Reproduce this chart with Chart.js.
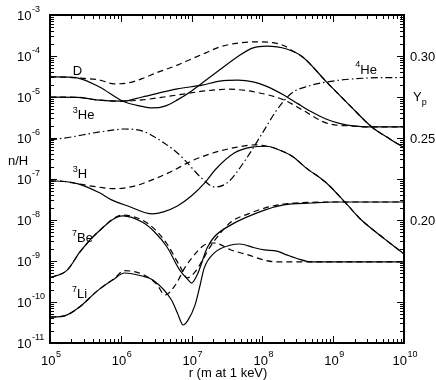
<!DOCTYPE html>
<html><head><meta charset="utf-8">
<script src="https://cdn.jsdelivr.net/npm/chart.js@4/dist/chart.umd.min.js"></script>
<style>html,body{margin:0;padding:0;background:#fff}canvas{display:block}</style>
</head><body>
<canvas id="c" width="436" height="380"></canvas>
<script>
// ---------------- data ----------------
const xDecades = [5, 6, 7, 8, 9, 10];            // tick labels 10^5 ... 10^10
const yDecades = [-11, -10, -9, -8, -7, -6, -5, -4, -3];
const ypTicks = [0.20, 0.25, 0.30];
const xTitle = 'r (m at 1 keV)';
const yTitle = 'n/H';

const D_solid_r = [1e5,1.6e5,2.5e5,5e5,1.07e6,1.9e6,2.8e6,4.2e6,6.3e6,1e7,1.41e7,2.5e7,4.4e7,7.4e7,1.15e8,2.2e8,3.7e8,8.1e8,1.75e9,3.5e9,6.3e9,1e10];
const D_solid_n = [3.1e-5,3.05e-5,2.9e-5,1.75e-5,7.9e-6,6.0e-6,5.4e-6,6.0e-6,8.5e-6,1.41e-5,2.2e-5,4.6e-5,9.5e-5,1.58e-4,1.74e-4,1.48e-4,9.5e-5,2.3e-5,6.0e-6,1.86e-6,9.5e-7,5.8e-7];
const D_dash_r = [1e5,1.6e5,2.5e5,5e5,8e5,1.26e6,2e6,3.2e6,6.3e6,1e7,1.58e7,2.5e7,4e7,8e7,1.4e8,2e8,2.7e8,3.7e8,8.1e8,1.75e9,3.5e9,6.3e9,1e10];
const D_dash_n = [3.1e-5,3.05e-5,2.9e-5,2.6e-5,2.1e-5,2.2e-5,2.8e-5,3.9e-5,6.0e-5,8.5e-5,1.19e-4,1.66e-4,2.0e-4,2.22e-4,2.12e-4,1.8e-4,1.32e-4,9.5e-5,2.3e-5,6.0e-6,1.86e-6,9.5e-7,5.8e-7];

const He3_solid_r = [1e5,2.5e5,4.5e5,1.07e6,2e6,6.3e6,1.41e7,2.5e7,4.5e7,7.4e7,1.15e8,2e8,3.2e8,5e8,7.9e8,1.26e9,2e9,4e9,1e10];
const He3_solid_n = [1.0e-5,9.8e-6,8.5e-6,7.9e-6,1.0e-5,1.58e-5,1.95e-5,2.45e-5,2.57e-5,2.34e-5,1.82e-5,1.12e-5,6.8e-6,4.3e-6,2.9e-6,2.24e-6,1.95e-6,1.86e-6,1.86e-6];
const He3_dash_r = [1e5,2.5e5,4.5e5,1.07e6,2e6,6.3e6,1.58e7,3.2e7,7.4e7,2e8,3.7e8,8.1e8,2e9,4e9,1e10];
const He3_dash_n = [1.0e-5,9.8e-6,8.5e-6,7.9e-6,8.5e-6,1.12e-5,1.41e-5,1.55e-5,1.35e-5,8.5e-6,4.8e-6,2.3e-6,1.95e-6,1.86e-6,1.86e-6];

const He4_r = [1e5,2e5,4e5,8e5,1.12e6,2e6,3e6,6.3e6,8.7e6,1.38e7,2.14e7,3.3e7,5.75e7,1e8,1.6e8,2.6e8,4.5e8,7.9e8,3.2e9,1e10];
const He4_Yp = [0.2488,0.2506,0.2530,0.2549,0.2555,0.2543,0.2506,0.2409,0.2348,0.2256,0.2201,0.2232,0.2366,0.2530,0.2671,0.2774,0.2817,0.2841,0.2866,0.2869];

const H3_solid_r = [1e5,1.6e5,2.5e5,5e5,7.4e5,1.26e6,2.8e6,4e6,6.3e6,1e7,1.58e7,2.14e7,4e7,7.1e7,1.15e8,1.6e8,2.7e8,4e8,8.1e8,1.6e9,2.5e9,4e9,6.3e9,1e10];
const H3_solid_n = [9e-8,8.7e-8,7.6e-8,4.6e-8,3.1e-8,2.2e-8,1.41e-8,1.58e-8,2.2e-8,3.9e-8,8.5e-8,1.66e-7,4.3e-7,6.0e-7,6.3e-7,5.4e-7,3.5e-7,1.95e-7,7.9e-8,2.3e-8,1e-8,5.1e-9,2.75e-9,1.48e-9];
const H3_dash_r = [1e5,1.6e5,2.5e5,5e5,8e5,1.6e6,2.5e6,5e6,1e7,2e7,4e7,7.9e7,1.15e8,1.6e8,2.7e8,4e8,8.1e8,1.6e9,2.5e9,4e9,6.3e9,1e10];
const H3_dash_n = [9e-8,8.7e-8,7.6e-8,6.3e-8,5.8e-8,6.8e-8,8.9e-8,1.48e-7,2.75e-7,4.3e-7,5.8e-7,6.8e-7,6.3e-7,5.4e-7,3.5e-7,1.95e-7,7.9e-8,2.3e-8,1e-8,5.1e-9,2.75e-9,1.48e-9];

const Be7_solid_r = [1e5,1.75e5,2.65e5,4.6e5,1.07e6,2e6,3e6,4.5e6,6.8e6,8.9e6,1e7,1.2e7,1.66e7,2.1e7,3.6e7,1.07e8,2e8,5e8,1e9,1e10];
const Be7_solid_n = [3.9e-10,6.0e-10,1.66e-9,4.8e-9,1.26e-8,8.9e-9,5.1e-9,2.2e-9,6.0e-10,3.5e-10,2.9e-10,4.6e-10,2.1e-9,3.9e-9,7.6e-9,1.74e-8,2.34e-8,2.6e-8,2.75e-8,2.75e-8];
const Be7_dash_r = [1e5,1.75e5,2.65e5,4.6e5,1.07e6,2e6,3e6,4.5e6,6.8e6,8.7e6,1.12e7,1.38e7,1.9e7,3.6e7,6.3e7,1.07e8,2e8,5e8,1e9,1e10];
const Be7_dash_n = [3.9e-10,6.0e-10,1.66e-9,4.8e-9,1.32e-8,1.0e-8,6.0e-9,2.6e-9,7.6e-10,3.9e-10,5.4e-10,9.5e-10,2.45e-9,8.9e-9,1.41e-8,1.95e-8,2.45e-8,2.7e-8,2.75e-8,2.75e-8];

const Li7_solid_r = [1e5,1.6e5,2.5e5,4.8e5,8e5,1.12e6,2e6,2.8e6,5.2e6,6.3e6,7.6e6,8.9e6,1.12e7,1.32e7,1.51e7,2.1e7,3.6e7,4.8e7,7.7e7,1.07e8,1.6e8,2.2e8,3e8,5e8,1e9,1e10];
const Li7_solid_n = [4.3e-11,4.6e-11,7.1e-11,1.95e-10,3.6e-10,5.1e-10,4.3e-10,3.5e-10,1.12e-10,5.4e-11,2.75e-11,3.6e-11,8.5e-11,2.6e-10,6.8e-10,1.58e-9,2.45e-9,2.6e-9,2.1e-9,1.86e-9,1.74e-9,1.41e-9,1.17e-9,9.5e-10,9.5e-10,9.5e-10];
const Li7_dash_r = [1e5,1.6e5,2.5e5,4.8e5,8e5,1.12e6,2e6,3.2e6,4.2e6,5.9e6,8e6,1e7,1.51e7,2.1e7,3.6e7,6.3e7,1.07e8,1.6e8,1e9,1e10];
const Li7_dash_n = [4.3e-11,4.6e-11,7.1e-11,1.95e-10,3.7e-10,5.8e-10,4.8e-10,2.75e-10,1.48e-10,2.6e-10,6.8e-10,1.17e-9,2.45e-9,2.75e-9,1.86e-9,1.41e-9,1.05e-9,9.5e-10,9.5e-10,9.5e-10];

// curve name labels (mass number, symbol)
const curveNames = [['', 'D'], ['3', 'He'], ['3', 'H'], ['7', 'Be'], ['7', 'Li'], ['4', 'He']];

// ---------------- chart ----------------
const FONT = '"Liberation Sans", Arial, Helvetica, sans-serif';
const SOLID = [], DASH = [6, 4], DASHDOT = [7, 3, 1.5, 3];
function pts(r, v) { return r.map((x, i) => ({ x: x, y: v[i] })); }
function series(label, r, v, dash, axis) {
  return { label: label, data: pts(r, v), yAxisID: axis || 'y', borderColor: '#000', backgroundColor: '#000',
    borderWidth: 1.2, borderDash: dash, pointRadius: 0, showLine: true, fill: false,
    cubicInterpolationMode: 'monotone' };
}

// label anchors in data space: [r, value, axis]
const labelAnchors = [[2.1e5, 4.1e-5, 'y'], [2.1e5, 3.5e-6, 'y'], [2.1e5, 1.3e-7, 'y'],
  [2.05e5, 3.5e-9, 'y'], [2.05e5, 1.5e-10, 'y'], [2.05e9, 0.2915, 'y2']];

function drawPow(ctx, base, exp, x, y, bigPx, smallPx, rise) {
  ctx.font = bigPx + 'px ' + FONT;
  ctx.fillText(base, x, y);
  const w = ctx.measureText(base).width;
  ctx.font = smallPx + 'px ' + FONT;
  ctx.fillText(exp, x + w + 0.5, y - rise);
  return w + 0.5 + ctx.measureText(exp).width;
}
function widthPow(ctx, base, exp, bigPx, smallPx) {
  ctx.font = bigPx + 'px ' + FONT; const w = ctx.measureText(base).width;
  ctx.font = smallPx + 'px ' + FONT; return w + 0.5 + ctx.measureText(exp).width;
}

const axesPlugin = {
  id: 'axesPlugin',
  afterDatasetsDraw(chart) {
    const ctx = chart.ctx, a = chart.chartArea;
    const sx = chart.scales.x, sy = chart.scales.y, sy2 = chart.scales.y2;
    ctx.save();
    ctx.strokeStyle = '#000'; ctx.fillStyle = '#000'; ctx.setLineDash([]);
    ctx.lineWidth = 1;
    ctx.beginPath();
    const MAJ = 7, MIN = 4;
    xDecades.forEach((e, i) => {
      const px = Math.round(sx.getPixelForValue(Math.pow(10, e))) + 0.5;
      ctx.moveTo(px, a.bottom); ctx.lineTo(px, a.bottom - MAJ);
      ctx.moveTo(px, a.top); ctx.lineTo(px, a.top + MAJ);
      if (i < xDecades.length - 1) for (let m = 2; m <= 9; m++) {
        const q = Math.round(sx.getPixelForValue(m * Math.pow(10, e))) + 0.5;
        ctx.moveTo(q, a.bottom); ctx.lineTo(q, a.bottom - MIN);
        ctx.moveTo(q, a.top); ctx.lineTo(q, a.top + MIN);
      }
    });
    yDecades.forEach((e, i) => {
      const py = Math.round(sy.getPixelForValue(Math.pow(10, e))) + 0.5;
      ctx.moveTo(a.left, py); ctx.lineTo(a.left + MAJ, py);
      ctx.moveTo(a.right, py); ctx.lineTo(a.right - MAJ, py);
      if (i < yDecades.length - 1) for (let m = 2; m <= 9; m++) {
        const q = Math.round(sy.getPixelForValue(m * Math.pow(10, e))) + 0.5;
        ctx.moveTo(a.left, q); ctx.lineTo(a.left + MIN, q);
        ctx.moveTo(a.right, q); ctx.lineTo(a.right - MIN, q);
      }
    });
    ctx.stroke();
    ctx.lineWidth = 2;
    ctx.strokeRect(a.left, a.top, a.right - a.left, a.bottom - a.top);

    ctx.textBaseline = 'middle'; ctx.textAlign = 'left';
    // left tick labels
    yDecades.forEach(e => {
      const py = sy.getPixelForValue(Math.pow(10, e));
      drawPow(ctx, '10', String(e), 17, py + 1.5, 13, 9, 6.5);
    });
    // bottom tick labels
    xDecades.forEach(e => {
      const px = sx.getPixelForValue(Math.pow(10, e));
      const w = widthPow(ctx, '10', String(e), 13, 9);
      drawPow(ctx, '10', String(e), px - w / 2 + 1, a.bottom + 18, 13, 9, 6.5);
    });
    // right tick labels
    ctx.font = '13px ' + FONT;
    ypTicks.forEach(v => {
      const py = sy2.getPixelForValue(v);
      ctx.fillText(v.toFixed(2), a.right + 6, py + 1);
    });
    // axis titles
    ctx.font = '13px ' + FONT;
    ctx.fillText(yTitle, 8, 161);
    ctx.font = '13px ' + FONT;
    ctx.fillText('Y', a.right + 9, 97);
    const wY = ctx.measureText('Y').width;
    ctx.font = '9px ' + FONT;
    ctx.fillText('p', a.right + 9 + wY, 103);
    ctx.font = '13px ' + FONT; ctx.textAlign = 'center';
    ctx.fillText(xTitle, (a.left + a.right) / 2 + 1, a.bottom + 30);
    ctx.textAlign = 'left';
    // curve labels
    curveNames.forEach((nm, i) => {
      const an = labelAnchors[i];
      const px = sx.getPixelForValue(an[0]);
      const py = chart.scales[an[2]].getPixelForValue(an[1]);
      let x = px;
      if (nm[0]) {
        ctx.font = '9px ' + FONT; ctx.fillText(nm[0], x, py - 5);
        x += ctx.measureText(nm[0]).width;
      }
      ctx.font = '13px ' + FONT; ctx.fillText(nm[1], x, py);
    });
    ctx.restore();
  }
};

new Chart(document.getElementById('c'), {
  type: 'scatter',
  data: { datasets: [
    series('D', D_solid_r, D_solid_n, SOLID),
    series('D (dashed)', D_dash_r, D_dash_n, DASH),
    series('3He', He3_solid_r, He3_solid_n, SOLID),
    series('3He (dashed)', He3_dash_r, He3_dash_n, DASH),
    series('3H', H3_solid_r, H3_solid_n, SOLID),
    series('3H (dashed)', H3_dash_r, H3_dash_n, DASH),
    series('7Be', Be7_solid_r, Be7_solid_n, SOLID),
    series('7Be (dashed)', Be7_dash_r, Be7_dash_n, DASH),
    series('7Li', Li7_solid_r, Li7_solid_n, SOLID),
    series('7Li (dashed)', Li7_dash_r, Li7_dash_n, DASH),
    series('4He Yp', He4_r, He4_Yp, DASHDOT, 'y2')
  ]},
  options: {
    responsive: false, animation: false, devicePixelRatio: 1,
    layout: { padding: { left: 50, right: 32, top: 15, bottom: 37 } },
    plugins: { legend: { display: false }, tooltip: { enabled: false }, title: { display: false } },
    scales: {
      x: { type: 'logarithmic', min: 1e5, max: 1e10, display: false },
      y: { type: 'logarithmic', min: 1e-11, max: 1e-3, display: false },
      y2: { type: 'linear', position: 'right', min: 0.125, max: 0.325, display: false }
    }
  },
  plugins: [axesPlugin]
});
</script>
</body></html>
